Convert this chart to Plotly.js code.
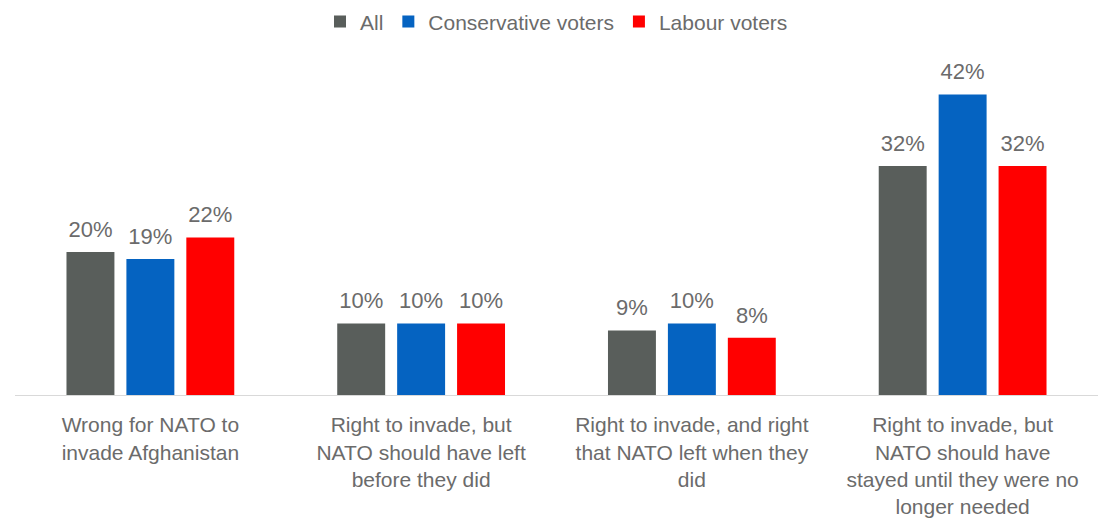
<!DOCTYPE html>
<html>
<head>
<meta charset="utf-8">
<script src="https://cdn.plot.ly/plotly-3.0.1.min.js"></script>
<style>html,body{margin:0;padding:0;background:#fff;}#chart{width:1099px;height:520px;}</style>
</head>
<body>
<div id="chart"></div>
<script>
const categories = [
  "Wrong for NATO to<br>invade Afghanistan",
  "Right to invade, but<br>NATO should have left<br>before they did",
  "Right to invade, and right<br>that NATO left when they<br>did",
  "Right to invade, but<br>NATO should have<br>stayed until they were no<br>longer needed"
];
const seriesNames = ["All", "Conservative voters", "Labour voters"];
const allValues = [20, 10, 9, 32];
const conservativeValues = [19, 10, 10, 42];
const labourValues = [22, 10, 8, 32];
const colors = ["#595e5b", "#0563c1", "#ff0000"];

const values = [allValues, conservativeValues, labourValues];
const textColor = "#6b6b6b";
const fontFamily = "Liberation Sans, Arial, sans-serif";

const traces = [];
values.forEach((v, i) => {
  traces.push({
    type: "bar",
    name: seriesNames[i],
    x: categories,
    y: v,
    marker: {color: colors[i]},
    offsetgroup: String(i),
    alignmentgroup: "a",
    hoverinfo: "skip"
  });
});
values.forEach((v, i) => {
  traces.push({
    type: "scatter",
    mode: "markers+text",
    x: categories,
    y: v,
    text: v.map(d => d + "%"),
    textposition: "top center",
    textfont: {size: 22, color: textColor, family: fontFamily},
    marker: {size: 14, opacity: 0},
    offsetgroup: String(i),
    alignmentgroup: "a",
    showlegend: false,
    cliponaxis: false,
    hoverinfo: "skip"
  });
});

const layout = {
  width: 1099,
  height: 520,
  margin: {l: 15, r: 1, t: 73, b: 125},
  paper_bgcolor: "#ffffff",
  plot_bgcolor: "#ffffff",
  barmode: "group",
  scattermode: "group",
  bargap: 0.336,
  bargroupgap: 0.2,
  font: {family: fontFamily, color: textColor},
  showlegend: true,
  legend: {
    orientation: "h",
    x: 0.5, xanchor: "center",
    yref: "container", y: 0.958, yanchor: "middle",
    font: {size: 21, color: textColor},
    itemwidth: 30,
    traceorder: "normal"
  },
  xaxis: {
    showgrid: false,
    showline: true,
    linecolor: "#d9d9d9",
    linewidth: 1,
    ticks: "",
    ticklabelstandoff: 11,
    tickfont: {size: 21, color: textColor},
    fixedrange: true
  },
  yaxis: {
    range: [0, 45],
    visible: false,
    showgrid: false,
    zeroline: false,
    fixedrange: true
  }
};

Plotly.newPlot("chart", traces, layout, {displayModeBar: false, staticPlot: true});
</script>
</body>
</html>
